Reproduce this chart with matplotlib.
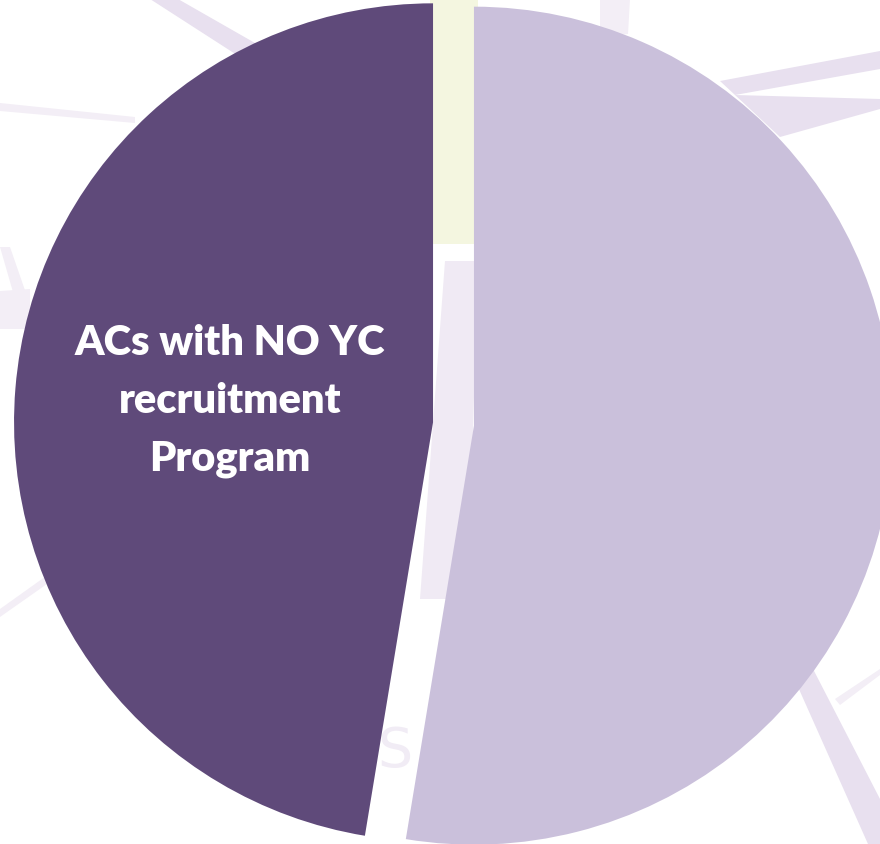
import matplotlib.pyplot as plt
from matplotlib.patches import Polygon

# pie data (share of ACs)
labels = ['ACs with NO YC\nrecruitment\nProgram', '']
shares = [47.4, 52.6]
colors = ['#5F4A7A', '#CAC0DB']
explode = [0.049, 0.049]

W, H = 880, 845
CX, CY, R = 453.5, 425.0, 419.0


def px(x, y):
    # image pixel -> pie data units (radius 1)
    return (x - CX) / R, (CY - y) / R


fig = plt.figure(figsize=(W / 100, H / 100), dpi=100)
fig.patch.set_facecolor('white')
ax = fig.add_axes([0, 0, 1, 1])

# faint watermark strokes behind the pie
WM = '#E8E0EF'
WM2 = '#F3EEF6'
marks = [
    ([(150, 0), (178, 0), (262, 48), (240, 58)], WM),
    ([(0, 104), (135, 118), (135, 124), (0, 112)], WM2),
    ([(0, 292), (30, 290), (30, 330), (0, 330)], WM2),
    ([(0, 248), (10, 248), (28, 300), (15, 300)], WM2),
    ([(0, 610), (70, 560), (74, 566), (0, 618)], WM2),
    ([(600, 0), (630, 0), (628, 35), (600, 38)], WM2),
    ([(720, 82), (880, 52), (880, 70), (735, 96)], WM),
    ([(735, 96), (880, 100), (880, 110), (780, 138)], WM),
    ([(790, 670), (812, 668), (880, 800), (880, 845), (868, 845)], WM),
    ([(835, 700), (880, 670), (880, 676), (840, 706)], WM2),
    ([(430, 0), (478, 0), (478, 245), (430, 245)], '#F4F6E0'),
    ([(445, 262), (478, 262), (468, 600), (420, 600)], '#F0EAF4'),
]
for pts, c in marks:
    ax.add_patch(Polygon([px(*p) for p in pts], closed=True, facecolor=c,
                         edgecolor='none', zorder=0))
ax.text(*px(395, 752), 'S', fontsize=40, color='#F1ECF5', ha='center',
        va='center', family='DejaVu Sans', zorder=0)

wedges, _ = ax.pie(shares, colors=colors, explode=explode, startangle=90,
                   counterclock=True, radius=1, center=(0, 0),
                   wedgeprops=dict(linewidth=0))
for w in wedges:
    w.set_zorder(2)

ax.text(*px(230, 401), labels[0], color='white', fontsize=30,
        fontweight='heavy', family='Lato', ha='center', va='center',
        linespacing=1.65, zorder=3)

x0, y0 = px(0, H)
x1, y1 = px(W, 0)
ax.set_xlim(x0, x1)
ax.set_ylim(y0, y1)
ax.set_aspect('equal')
ax.axis('off')

fig.savefig('out.png', dpi=100, facecolor='white')
